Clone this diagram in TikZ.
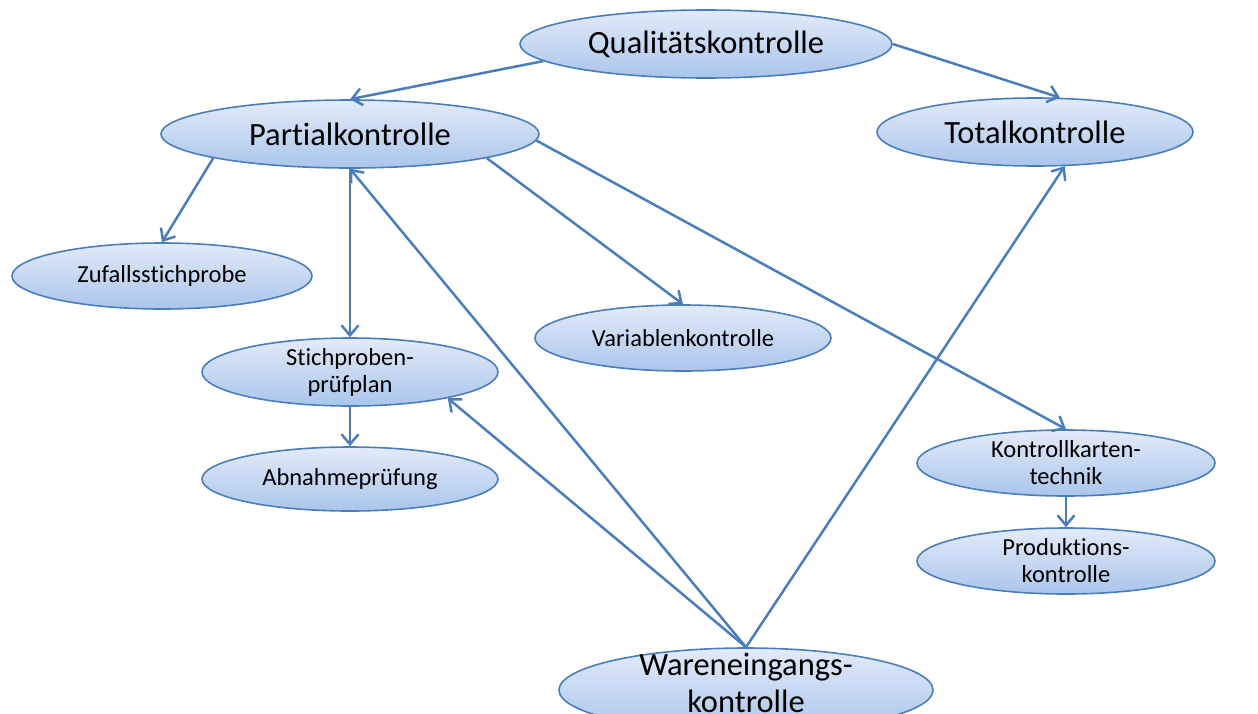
\documentclass[tikz,border=0pt]{standalone}
\usepackage{fontspec}
\setmainfont[Ligatures=NoCommon]{Carlito}
\usetikzlibrary{shapes.geometric,arrows.meta}
\definecolor{edgeblue}{RGB}{74,126,187}
\definecolor{filltop}{RGB}{226,235,248}
\definecolor{fillbot}{RGB}{170,197,236}
\tikzset{
  ell/.style={ellipse, draw=edgeblue, line width=1.6pt, top color=filltop, bottom color=fillbot,
    inner xsep=0pt, inner ysep=-20pt, align=center, text=black},
  bigtxt/.style={font=\fontsize{32.5}{37}\selectfont},
  smalltxt/.style={font=\fontsize{24.5}{27}\selectfont},
  conn/.style={draw=edgeblue, line width=2.5pt, -{Straight Barb[length=10pt,width=17pt]}}
}
\begin{document}
\begin{tikzpicture}[x=1pt,y=-1pt]
\useasboundingbox (0,0) rectangle (1258,713);
\node[ell,bigtxt,minimum width=372pt,minimum height=68pt] (qual) at (706,44) {Qualitätskontrolle};
\node[ell,bigtxt,minimum width=378pt,minimum height=68pt] (partial) at (350,134) {Partialkontrolle};
\node[ell,bigtxt,minimum width=316pt,minimum height=68pt] (total) at (1035,132) {Totalkontrolle};
\node[ell,smalltxt,minimum width=300pt,minimum height=66pt] (zufall) at (162,276) {Zufallsstichprobe};
\node[ell,smalltxt,minimum width=296pt,minimum height=66pt] (variablen) at (683,338) {Variablenkontrolle};
\node[ell,smalltxt,minimum width=296pt,minimum height=68pt] (stich) at (350,372) {Stichproben-\\prüfplan};
\node[ell,smalltxt,minimum width=296pt,minimum height=64pt] (abnahme) at (350,479) {Abnahmeprüfung};
\node[ell,smalltxt,minimum width=298pt,minimum height=66pt] (kontroll) at (1066,463) {Kontrollkarten-\\technik};
\node[ell,smalltxt,minimum width=298pt,minimum height=66pt] (prod) at (1066,561) {Produktions-\\kontrolle};
\node[ell,minimum width=374pt,minimum height=84pt] (waren) at (746,690) {};
\node[bigtxt,align=center,inner sep=0pt] (warentext) at (746,683) {Wareneingangs-\\kontrolle};
\draw[conn] (qual.186) -- (partial.north);
\draw[conn] (qual.east) -- (total.54);
\draw[conn] (partial.190) -- (zufall.north);
\draw[conn] (partial.350) -- (variablen.north);
\draw[conn] (partial.-2) -- (kontroll.north);
\draw[conn] (partial.south) -- (stich.north);
\draw[conn] (stich.south) -- (abnahme.north);
\draw[conn] (kontroll.south) -- (prod.north);
\draw[conn] (waren.north) -- (partial.south);
\draw[conn] (waren.north) -- (stich.-15);
\draw[conn] (waren.north) -- (total.-49);
\end{tikzpicture}
\end{document}
